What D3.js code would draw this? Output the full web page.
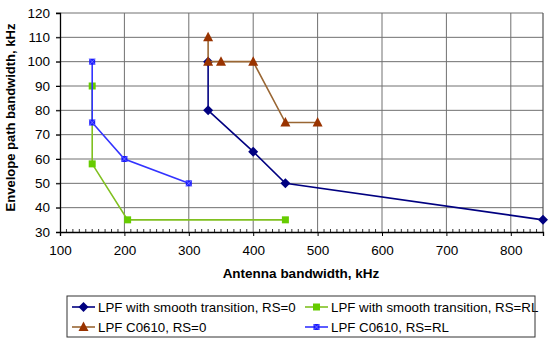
<!DOCTYPE html>
<html>
<head>
<meta charset="utf-8">
<script src="https://cdn.jsdelivr.net/npm/d3@7"></script>
<style>
  body { margin: 0; background: #fff; }
  svg { font-family: Arial, "Liberation Sans", sans-serif; }
</style>
</head>
<body>
<svg id="chart"></svg>
<script>
// data
const smoothRS0 = [[330, 100], [330, 80], [400, 63], [450, 50], [850, 35]];
const smoothRSRL = [[150, 90], [150, 58], [205, 35], [450, 35]];
const c0610RS0 = [[330, 110], [330, 100], [350, 100], [400, 100], [450, 75], [500, 75]];
const c0610RSRL = [[150, 100], [150, 75], [200, 60], [300, 50]];

const xTicks = [100, 200, 300, 400, 500, 600, 700, 800];
const yTicks = [30, 40, 50, 60, 70, 80, 90, 100, 110, 120];

const series = [
  { name: "LPF with smooth transition, RS=0", data: smoothRS0, line: "#000080", fill: "#000080", shape: "diamond" },
  { name: "LPF with smooth transition, RS=RL", data: smoothRSRL, line: "#80c020", fill: "#66cc00", shape: "square" },
  { name: "LPF C0610, RS=0", data: c0610RS0, line: "#996633", fill: "#993300", shape: "triangle" },
  { name: "LPF C0610, RS=RL", data: c0610RSRL, line: "#3333ff", fill: "#1a1aff", shape: "xsquare" }
];

const W = 550, H = 342;
const m = { left: 60, top: 13, right: 543, bottom: 232 };

const svg = d3.select("#chart").attr("width", W).attr("height", H);

const x = d3.scaleLinear().domain([100, 850]).range([m.left, m.right]);
const y = d3.scaleLinear().domain([30, 120]).range([m.bottom, m.top]);

// grid
svg.append("g").selectAll("line").data(xTicks.slice(1))
  .enter().append("line")
  .attr("x1", d => x(d)).attr("x2", d => x(d))
  .attr("y1", m.top).attr("y2", m.bottom)
  .attr("stroke", "#707070").attr("stroke-width", 1);
svg.append("g").selectAll("line").data(yTicks.slice(1))
  .enter().append("line")
  .attr("x1", m.left - 4).attr("x2", m.right)
  .attr("y1", d => y(d)).attr("y2", d => y(d))
  .attr("stroke", "#707070").attr("stroke-width", 1);

// right border
svg.append("line")
  .attr("x1", m.right).attr("x2", m.right).attr("y1", m.top).attr("y2", m.bottom)
  .attr("stroke", "#555").attr("stroke-width", 1.2);

// minor ticks along the bottom, every 10
const minor = d3.range(110, 850, 10).filter(d => d % 100 !== 0);
svg.append("g").selectAll("line").data(minor)
  .enter().append("line")
  .attr("x1", d => x(d)).attr("x2", d => x(d))
  .attr("y1", m.bottom).attr("y2", m.bottom - 3)
  .attr("stroke", "#333");

// axes
const xAxis = svg.append("g")
  .attr("transform", `translate(0,${m.bottom})`)
  .call(d3.axisBottom(x).tickValues(xTicks).tickSize(4).tickPadding(9));
const yAxis = svg.append("g")
  .attr("transform", `translate(${m.left},0)`)
  .call(d3.axisLeft(y).tickValues(yTicks).tickSize(4).tickPadding(6));
[xAxis, yAxis].forEach(a => {
  a.select(".domain").attr("stroke", "#000").attr("stroke-width", 1.3);
  a.selectAll(".tick line").attr("stroke", "#000");
  a.selectAll("text").attr("font-size", 13.5).attr("fill", "#000")
    .attr("font-family", "Arial, 'Liberation Sans', sans-serif");
});

// axis titles
svg.append("text")
  .attr("x", 301).attr("y", 278)
  .attr("text-anchor", "middle").attr("font-size", 13.5).attr("font-weight", "bold")
  .text("Antenna bandwidth, kHz");
svg.append("text")
  .attr("transform", `translate(15,${(m.top + m.bottom) / 2 - 5}) rotate(-90)`)
  .attr("text-anchor", "middle").attr("font-size", 13).attr("font-weight", "bold")
  .text("Envelope path bandwidth, kHz");

function marker(g, shape, color, cx, cy) {
  if (shape === "diamond") {
    g.append("path").attr("d", `M${cx},${cy - 5}L${cx + 5},${cy}L${cx},${cy + 5}L${cx - 5},${cy}Z`).attr("fill", color);
  } else if (shape === "square") {
    g.append("rect").attr("x", cx - 3.5).attr("y", cy - 3.5).attr("width", 7).attr("height", 7).attr("fill", color);
  } else if (shape === "triangle") {
    g.append("path").attr("d", `M${cx},${cy - 5.5}L${cx + 5},${cy + 4}L${cx - 5},${cy + 4}Z`).attr("fill", color);
  } else {
    g.append("rect").attr("x", cx - 3).attr("y", cy - 3).attr("width", 6).attr("height", 6).attr("fill", color);
    g.append("path").attr("d", `M${cx - 3},${cy - 3}L${cx + 3},${cy + 3}M${cx + 3},${cy - 3}L${cx - 3},${cy + 3}`)
      .attr("stroke", "#8080ff").attr("stroke-width", 0.8);
  }
}

const line = d3.line().x(d => x(d[0])).y(d => y(d[1]));

series.forEach(s => {
  const g = svg.append("g");
  g.append("path").datum(s.data).attr("d", line)
    .attr("fill", "none").attr("stroke", s.line).attr("stroke-width", 1.6);
  s.data.forEach(d => marker(g, s.shape, s.fill, x(d[0]), y(d[1])));
});

// legend
const leg = svg.append("g");
const legX = 67, legY = 296, legW = 468, legH = 41;
const cols = [72, 305];
const rows = [307, 327];
series.forEach((s, i) => {
  const lx = cols[i % 2], ly = rows[Math.floor(i / 2)];
  leg.append("line").attr("x1", lx).attr("x2", lx + 23).attr("y1", ly).attr("y2", ly)
    .attr("stroke", s.line).attr("stroke-width", 1.6);
  marker(leg, s.shape, s.fill, lx + 11.5, ly);
  leg.append("text").attr("x", lx + 26).attr("y", ly + 4.5)
    .attr("font-size", 13.3).text(s.name);
});
leg.append("rect").attr("x", legX).attr("y", legY).attr("width", legW).attr("height", legH)
  .attr("fill", "none").attr("stroke", "#333").attr("stroke-width", 1);
</script>
</body>
</html>
